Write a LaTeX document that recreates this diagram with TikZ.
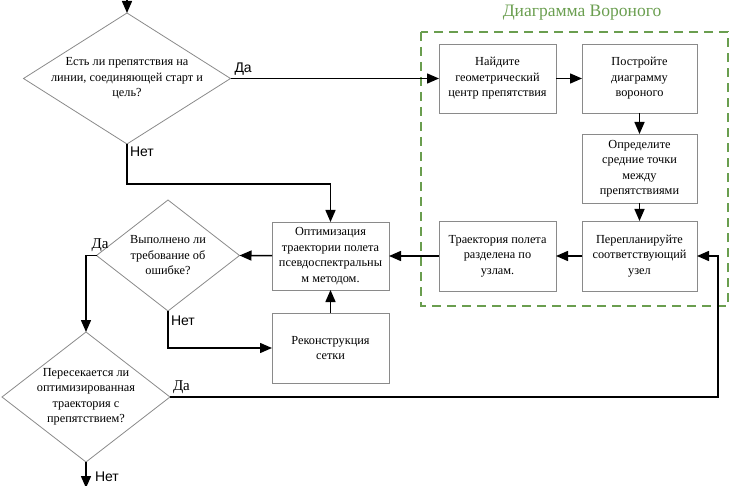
\documentclass[tikz,border=0pt]{standalone}
\usepackage{fontspec}
\setmainfont{Liberation Serif}
\newfontfamily\serifrm{Liberation Serif}
\newfontfamily\sansrm{Liberation Sans}
\usetikzlibrary{shapes.geometric,arrows.meta,calc}
\definecolor{grpgreen}{HTML}{6A9E4F}
\definecolor{boxgray}{HTML}{8A8A8A}
\begin{document}
\begin{tikzpicture}[x=1pt,y=-1pt,
  every node/.style={inner sep=0pt,outer sep=0pt},
  txt/.style={font=\serifrm\fontsize{12.3}{15.5}\selectfont,align=center},
  box/.style={draw=boxgray,line width=0.8pt,rectangle},
  dia/.style={draw=boxgray,line width=0.8pt,diamond},
  arr/.style={line width=1.5pt,-{Triangle[length=12pt,width=10pt]}},
  yes/.style={font=\serifrm\fontsize{15}{16}\selectfont},
  no/.style={font=\sansrm\fontsize{14}{16}\selectfont}]
\useasboundingbox (0,0) rectangle (730,486);
% group
\draw[grpgreen,line width=1.6pt,dash pattern=on 9pt off 6pt] (421,32) rectangle (728,306);
\node[text=grpgreen,font=\serifrm\fontsize{17.5}{20}\selectfont] (gtitle) at (582,13) {Диаграмма Вороного};
% diamonds
\node[dia,minimum width=207pt,minimum height=131pt] (d1) at (127,78.5) {};
\node[txt] (d1t) at (127,78.5) {Есть ли препятствия на\\линии, соединяющей старт и\\цель?};
\node[dia,minimum width=143pt,minimum height=111pt] (d2) at (168,255.5) {};
\node[txt] (d2t) at (168,255.5) {Выполнено ли\\требование об\\ошибке?};
\node[dia,minimum width=168pt,minimum height=130pt] (d3) at (86,397) {};
\node[txt] (d3t) at (86,397) {Пересекается ли\\оптимизированная\\траектория с\\препятствием?};
% boxes
\node[box,minimum width=117pt,minimum height=69pt] (b1) at (497.5,78.5) {};
\node[txt] at (b1) {Найдите\\геометрический\\центр препятствия};
\node[box,minimum width=115pt,minimum height=69pt] (b2) at (639.5,78.5) {};
\node[txt] at (b2) {Постройте\\диаграмму\\вороного};
\node[box,minimum width=115pt,minimum height=69pt] (b3) at (639.5,168.5) {};
\node[txt] at (b3) {Определите\\средние точки\\между\\препятствиями};
\node[box,minimum width=115pt,minimum height=70pt] (b4) at (639.5,256) {};
\node[txt] at (b4) {Перепланируйте\\соответствующий\\узел};
\node[box,minimum width=117pt,minimum height=70pt] (b5) at (497.5,256) {};
\node[txt] at (b5) {Траектория полета\\разделена по\\узлам.};
\node[box,minimum width=117pt,minimum height=68pt] (opt) at (330.5,256) {};
\node[txt] at (opt) {Оптимизация\\траектории полета\\псевдоспектральны\\м методом.};
\node[box,minimum width=117pt,minimum height=70pt] (rec) at (330.5,348) {};
\node[txt] at (rec) {Реконструкция\\сетки};
% coordinates
\coordinate (start) at (127,0);
\coordinate (k1) at (330.5,184);
\coordinate (k2) at (718,397);
\coordinate (fin) at (86,488);
% connectors
\draw[arr] (start) -- (d1.north);
\draw[arr] (d1.east) -- (b1.west);
\node[no,anchor=south west] (l1) at ($(d1.east)+(4,-3)$) {Да};
\draw[arr] (d1.south) |- (k1) -- (opt.north);
\node[no,anchor=north west] (l2) at ($(d1.south)+(3,3)$) {Нет};
\draw[arr] (b1) -- (b2);
\draw[arr] (b2) -- (b3);
\draw[arr] (b3) -- (b4);
\draw[arr] (b4) -- (b5);
\draw[arr] (b5) -- (opt);
\draw[arr] (opt) -- (d2.east);
\draw[arr] (rec) -- (opt);
\draw[arr] (d2.west) -| (d3.north);
\node[yes,anchor=south east] (l3) at ($(d2.west)+(12,-4)$) {Да};
\draw[arr] (d2.south) |- (rec.west);
\node[no,anchor=north west] (l4) at ($(d2.south)+(3,5)$) {Нет};
\draw[arr] (d3.east) -- (k2) |- (b4.east);
\node[yes,anchor=south west] (l5) at ($(d3.east)+(3,-3)$) {Да};
\draw[arr] (d3.south) -- (fin);
\node[no,anchor=west] (l6) at ($(d3.south)+(9,15)$) {Нет};
\end{tikzpicture}
\end{document}
